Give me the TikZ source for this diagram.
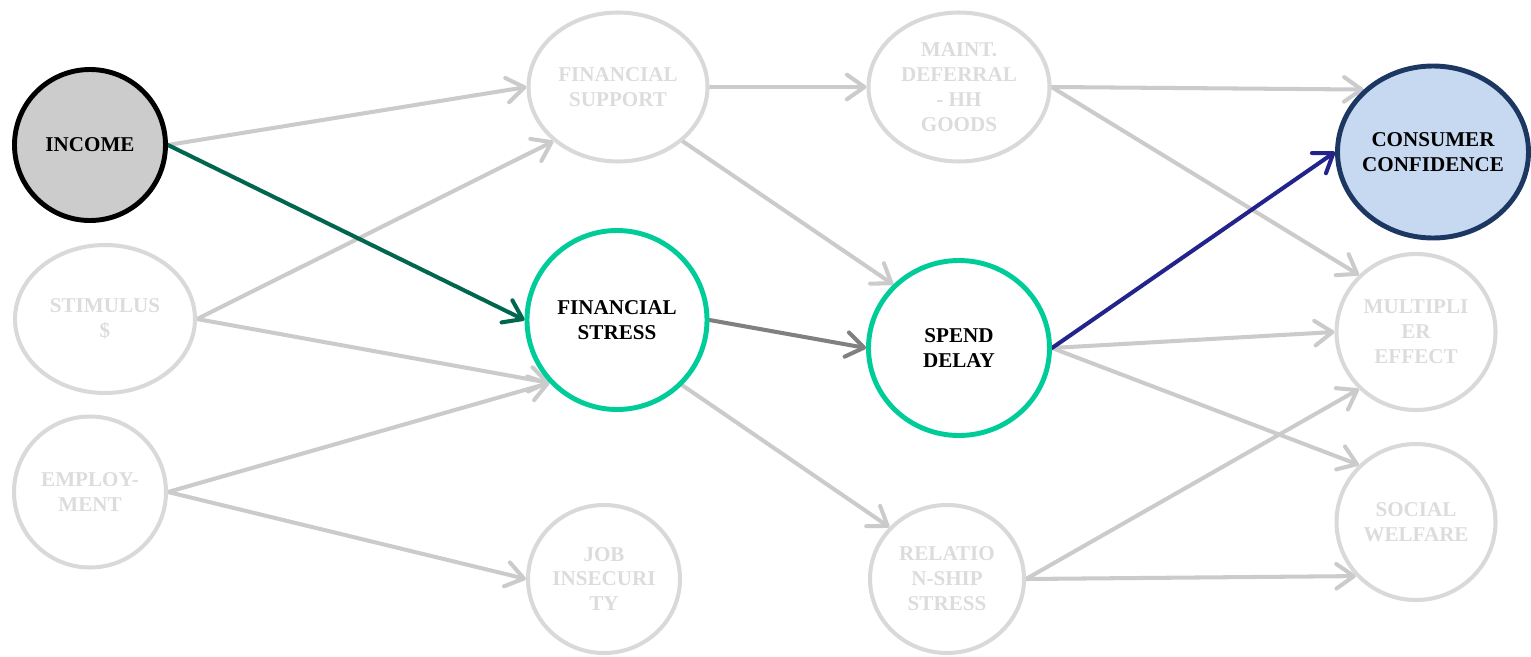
\documentclass[tikz,border=0pt]{standalone}
\usepackage{fontspec}
\setmainfont{Liberation Serif}
\usetikzlibrary{shapes.geometric,arrows.meta,backgrounds}
\definecolor{nodegray}{HTML}{D9D9D9}
\definecolor{edgegray}{HTML}{CBCBCB}
\definecolor{txtgray}{HTML}{DCDCDC}
\definecolor{incfill}{HTML}{CCCCCC}
\definecolor{teal}{HTML}{00CC99}
\definecolor{dkgreen}{HTML}{00664D}
\definecolor{dkgray}{HTML}{808080}
\definecolor{navyarrow}{HTML}{23238C}
\definecolor{conffill}{HTML}{C6D9F1}
\definecolor{confdraw}{HTML}{1C3862}
\begin{document}
\begin{tikzpicture}[x=0.02cm,y=-0.02cm,
  base/.style={ellipse, inner sep=0pt, align=center,
    font=\fontsize{12}{14.2}\selectfont\bfseries, line width=2.3pt},
  faded/.style={base, draw=nodegray, text=txtgray},
  active/.style={base, draw=teal, line width=2.8pt, text=black},
  edge/.style={draw=edgegray, line width=2.3pt,
    -{Straight Barb[length=10pt,width=14pt,round]}, line cap=round},
  sz/.style n args={2}{minimum width=#1*0.02cm, minimum height=#2*0.02cm}
]
\useasboundingbox (0,0) rectangle (1531,656);

% column 1
\node[base, sz={151}{151}, draw=black, fill=incfill, line width=2.8pt] (income) at (90,145) {INCOME};
\node[faded, sz={180}{148}] (stim) at (105,319) {STIMULUS\\\$};
\node[faded, sz={152}{151}] (employ) at (90,492) {EMPLOY-\\MENT};
% column 2
\node[faded, sz={179}{149}] (finsup) at (618,87) {FINANCIAL\\SUPPORT};
\node[active, sz={180}{179}] (finstress) at (617,320) {FINANCIAL\\STRESS};
\node[faded, sz={152}{148}] (jobins) at (604,579) {JOB\\INSECURI\\TY};
% column 3
\node[faded, sz={181}{149}] (maint) at (959,87) {MAINT.\\DEFERRAL\\- HH\\GOODS};
\node[active, sz={181}{175}] (spend) at (959,348) {SPEND\\DELAY};
\node[faded, sz={154}{148}] (relation) at (947,579) {RELATIO\\N-SHIP\\STRESS};
% column 4
\node[base, sz={191}{172}, draw=confdraw, fill=conffill, line width=2.8pt, inner xsep=-6pt] (conf) at (1433,152) {CONSUMER\\CONFIDENCE};
\node[faded, sz={159}{156}] (mult) at (1416,332) {MULTIPLI\\ER\\EFFECT};
\node[faded, sz={159}{156}] (social) at (1416,522) {SOCIAL\\WELFARE};

\begin{scope}[on background layer]
\draw[edge] (income.east) -- (finsup.west);
\draw[edge] (stim.east) -- (finsup.220);
\draw[edge] (stim.east) -- (finstress.223);
\draw[edge] (employ.east) -- (finstress.223);
\draw[edge] (employ.east) -- (jobins.west);
\draw[edge] (finsup.east) -- (maint.west);
\draw[edge] (finsup.320) -- (spend.136);
\draw[edge] (finstress.315) -- (relation.138);
\draw[edge] (maint.east) -- (conf.138);
\draw[edge] (maint.east) -- (mult.135);
\draw[edge] (spend.east) -- (mult.west);
\draw[edge] (spend.east) -- (social.135);
\draw[edge] (relation.east) -- (mult.225);
\draw[edge] (relation.east) -- (social.222);
% highlighted path
\draw[edge, draw=dkgreen] (income.east) -- (finstress.west);
\draw[edge, draw=dkgray] (finstress.east) -- (spend.west);
\draw[edge, draw=navyarrow] (spend.east) -- (conf.west);
\end{scope}
\end{tikzpicture}
\end{document}
